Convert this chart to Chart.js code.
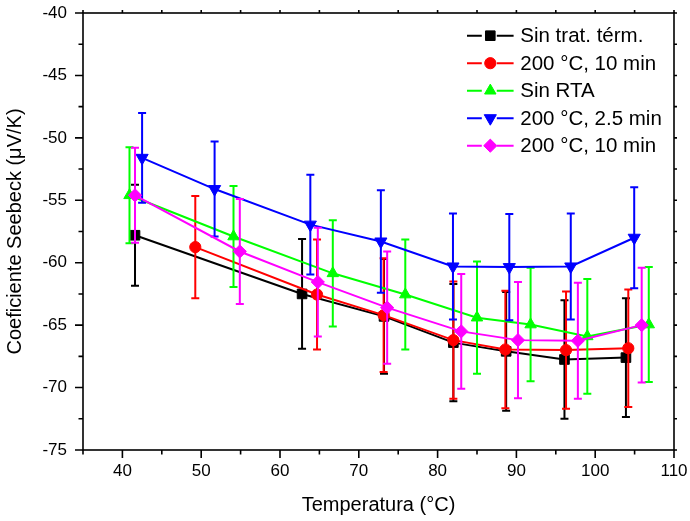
<!DOCTYPE html>
<html>
<head>
<meta charset="utf-8">
<script src="https://cdn.jsdelivr.net/npm/chart.js@4/dist/chart.umd.min.js"></script>
<style>
  html, body { margin: 0; padding: 0; background: #ffffff; }
  canvas { display: block; }
</style>
</head>
<body>
<canvas id="chart" width="690" height="521"></canvas>
<script>
// Seebeck coefficient vs. temperature, one series per annealing condition.
const seriesNames = ['Sin trat. térm.', '200 °C, 10 min', 'Sin RTA', '200 °C, 2.5 min', '200 °C, 10 min'];

// Sin trat. térm.
const tempA = [41.6, 62.8, 73.2, 82.0, 88.7, 96.1, 103.9];
const seebeckA = [-57.8, -62.5, -64.3, -66.4, -67.1, -67.75, -67.6];
const errA = [4.05, 4.4, 4.6, 4.7, 4.75, 4.75, 4.75];

// 200 °C, 10 min (red)
const tempB = [49.25, 64.7, 73.15, 82.0, 88.6, 96.3, 104.2];
const seebeckB = [-58.75, -62.55, -64.2, -66.2, -66.95, -67.0, -66.85];
const errB = [4.1, 4.4, 4.55, 4.7, 4.7, 4.7, 4.7];

// Sin RTA
const tempC = [40.9, 54.1, 66.7, 75.9, 85.0, 91.8, 99.0, 106.8];
const seebeckC = [-54.6, -57.9, -60.85, -62.55, -64.4, -64.95, -65.9, -64.95];
const errC = [3.85, 4.05, 4.25, 4.4, 4.5, 4.55, 4.6, 4.6];

// 200 °C, 2.5 min
const tempD = [42.5, 51.7, 63.85, 72.8, 81.95, 89.1, 96.9, 104.95];
const seebeckD = [-51.6, -54.1, -56.95, -58.3, -60.3, -60.35, -60.3, -58.0];
const errD = [3.6, 3.8, 4.0, 4.1, 4.25, 4.25, 4.25, 4.05];

// 200 °C, 10 min (magenta)
const tempE = [41.6, 54.9, 64.8, 73.6, 83.0, 90.2, 97.8, 105.9];
const seebeckE = [-54.6, -59.1, -61.55, -63.6, -65.5, -66.2, -66.25, -65.0];
const errE = [3.8, 4.2, 4.35, 4.5, 4.6, 4.65, 4.65, 4.6];

// Axis ticks
const xTickValues = [40, 50, 60, 70, 80, 90, 100, 110];
const yTickValues = [-75, -70, -65, -60, -55, -50, -45, -40];
const xMinorStep = 5;
const yMinorStep = 2.5;

const FONT = "'Liberation Sans', Arial, sans-serif";

const styles = [
  { color: '#000000', pointStyle: 'rect', radius: 6.8, rotation: 0 },
  { color: '#ff0000', pointStyle: 'circle', radius: 5.6, rotation: 0 },
  { color: '#00ff00', pointStyle: 'triangle', radius: 6.6, rotation: 0 },
  { color: '#0000ff', pointStyle: 'triangle', radius: 7.0, rotation: 180 },
  { color: '#ff00ff', pointStyle: 'rectRot', radius: 6.6, rotation: 0 }
];

const seriesData = [
  [tempA, seebeckA, errA],
  [tempB, seebeckB, errB],
  [tempC, seebeckC, errC],
  [tempD, seebeckD, errD],
  [tempE, seebeckE, errE]
];

const datasets = seriesData.map(([t, s, e], i) => ({
  label: seriesNames[i],
  data: t.map((x, k) => ({ x: x, y: s[k] })),
  yErr: e,
  borderColor: styles[i].color,
  backgroundColor: styles[i].color,
  borderWidth: 2,
  pointStyle: styles[i].pointStyle,
  pointRadius: styles[i].radius,
  pointRotation: styles[i].rotation,
  pointBackgroundColor: styles[i].color,
  pointBorderColor: styles[i].color,
  pointBorderWidth: 1,
  tension: 0,
  order: seriesData.length - i
}));

// Vertical error bars with caps, drawn just under each series
const errorBarPlugin = {
  id: 'errorBars',
  beforeDatasetDraw(chart, args) {
    const ds = chart.data.datasets[args.index];
    if (!ds.yErr) return;
    const ctx = chart.ctx;
    const xs = chart.scales.x, ys = chart.scales.y;
    ctx.save();
    ctx.strokeStyle = ds.borderColor;
    ctx.lineWidth = 2;
    ds.data.forEach((p, k) => {
      const px = xs.getPixelForValue(p.x);
      const yTop = ys.getPixelForValue(p.y + ds.yErr[k]);
      const yBot = ys.getPixelForValue(p.y - ds.yErr[k]);
      ctx.beginPath();
      ctx.moveTo(px, yTop); ctx.lineTo(px, yBot);
      ctx.moveTo(px - 4, yTop); ctx.lineTo(px + 4, yTop);
      ctx.moveTo(px - 4, yBot); ctx.lineTo(px + 4, yBot);
      ctx.stroke();
    });
    ctx.restore();
  }
};

// Frame around the plot with major/minor tick marks
const framePlugin = {
  id: 'frame',
  afterDatasetsDraw(chart) {
    const ctx = chart.ctx;
    const { left, right, top, bottom } = chart.chartArea;
    const xs = chart.scales.x, ys = chart.scales.y;
    ctx.save();
    ctx.strokeStyle = '#000';
    ctx.lineWidth = 1.6;
    ctx.strokeRect(left, top, right - left, bottom - top);
    ctx.beginPath();
    for (let v = xs.min; v <= xs.max + 1e-9; v += xMinorStep) {
      const px = xs.getPixelForValue(v);
      const major = xTickValues.includes(v);
      ctx.moveTo(px, bottom); ctx.lineTo(px, bottom + (major ? 8 : 4.5));
      ctx.moveTo(px, top); ctx.lineTo(px, top - 3);
    }
    for (let v = ys.min; v <= ys.max + 1e-9; v += yMinorStep) {
      const py = ys.getPixelForValue(v);
      const major = yTickValues.includes(v);
      ctx.moveTo(left, py); ctx.lineTo(left - (major ? 8 : 4.5), py);
      ctx.moveTo(right, py); ctx.lineTo(right + 3, py);
    }
    ctx.stroke();
    ctx.restore();
  }
};

// Legend in the upper right corner of the plot
const legendPlugin = {
  id: 'insideLegend',
  afterDraw(chart) {
    const ctx = chart.ctx;
    const { right, top } = chart.chartArea;
    const x0 = right - 207;
    const rowH = 27.5;
    ctx.save();
    chart.data.datasets.forEach((ds, i) => {
      const y = top + 22.7 + i * rowH;
      const xc = x0 + 23.3;
      ctx.strokeStyle = ds.borderColor;
      ctx.lineWidth = 2;
      ctx.beginPath();
      ctx.moveTo(x0, y); ctx.lineTo(xc - 8.5, y);
      ctx.moveTo(xc + 6.5, y); ctx.lineTo(x0 + 46.6, y);
      ctx.stroke();
      ctx.fillStyle = ds.pointBackgroundColor;
      ctx.strokeStyle = ds.pointBorderColor;
      ctx.lineWidth = 1;
      Chart.helpers.drawPoint(ctx, {
        pointStyle: ds.pointStyle,
        rotation: ds.pointRotation,
        radius: ds.pointRadius,
        borderWidth: 1
      }, xc, y);
      ctx.fillStyle = '#000';
      ctx.font = '20.5px ' + FONT;
      ctx.textAlign = 'left';
      ctx.textBaseline = 'middle';
      ctx.fillText(ds.label, x0 + 53.3, y + 1);
    });
    ctx.restore();
  }
};

new Chart(document.getElementById('chart'), {
  type: 'line',
  data: { datasets },
  options: {
    responsive: false,
    animation: false,
    devicePixelRatio: 1,
    layout: { padding: { top: 13, right: 16, left: 0, bottom: 0 } },
    plugins: { legend: { display: false }, tooltip: { enabled: false } },
    scales: {
      x: {
        type: 'linear',
        min: 35,
        max: 110,
        afterBuildTicks: s => { s.ticks = xTickValues.map(v => ({ value: v })); },
        afterFit: s => { s.height = 71; s.paddingLeft = 0; s.paddingRight = 0; },
        grid: { display: false, drawTicks: false },
        border: { display: false },
        ticks: { color: '#000', font: { family: FONT, size: 17 }, padding: 11, maxRotation: 0, autoSkip: false },
        title: { display: true, text: 'Temperatura (°C)', color: '#000', font: { family: FONT, size: 20 }, padding: { top: 0, bottom: 4 } }
      },
      y: {
        type: 'linear',
        min: -75,
        max: -40,
        afterBuildTicks: s => { s.ticks = yTickValues.map(v => ({ value: v })); },
        afterFit: s => { s.width = 83; s.paddingTop = 0; s.paddingBottom = 0; },
        grid: { display: false, drawTicks: false },
        border: { display: false },
        ticks: { color: '#000', font: { family: FONT, size: 17 }, padding: 16, autoSkip: false },
        title: { display: true, text: 'Coeficiente Seebeck (μV/K)', color: '#000', font: { family: FONT, size: 20 }, padding: { top: 3.5, bottom: 0 } }
      }
    }
  },
  plugins: [errorBarPlugin, framePlugin, legendPlugin]
});
</script>
</body>
</html>
